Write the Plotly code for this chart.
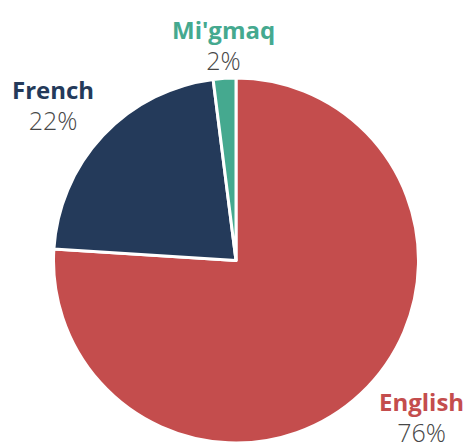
import math
import plotly.graph_objects as go

languages = ["English", "French", "Mi'gmaq"]
shares = [76, 22, 2]
colors = ["#c44d4d", "#243a5a", "#45a98f"]

W, H = 475, 443
CX, CY = 236.0, 260.5      # pie centre in px (from top-left)
R_PIE = 182.5              # pie radius in px
GAP = 9                    # visual gap between pie edge and label corner
VIS_H = 52                 # visual height of a two-line label
PAD_T, PAD_B = 7, 10       # annotation box padding around visible glyphs

fig = go.Figure(go.Pie(
    labels=languages,
    values=shares,
    marker=dict(colors=colors, line=dict(color="white", width=3)),
    sort=False,
    direction="clockwise",
    rotation=0,
    textinfo="none",
    showlegend=False,
    hoverinfo="label+percent",
    domain=dict(x=[(CX - R_PIE) / W, (CX + R_PIE) / W],
                y=[(H - CY - R_PIE) / H, (H - CY + R_PIE) / H]),
))

total = sum(shares)
annotations = []
cum = 0
for name, v, col in zip(languages, shares, colors):
    mid = (cum + v / 2) / total * 2 * math.pi
    cum += v
    ux, uy = math.sin(mid), -math.cos(mid)   # uy positive = downwards
    rl = R_PIE + GAP
    px, py = CX + ux * rl, CY + uy * rl
    xanchor = "left" if ux > 0.3 else ("right" if ux < -0.3 else "center")
    yanchor = "top" if uy > 0 else "bottom"
    if yanchor == "top":
        if py + VIS_H > H - 1:
            py = H - 1 - VIS_H
            dx = math.sqrt(max(rl ** 2 - (py - CY) ** 2, 0))
            px = CX + (dx if ux > 0 else -dx)
        ybox = py - PAD_T
    else:
        ybox = py + PAD_B
    pct = round(v / total * 100)
    annotations.append(dict(
        x=px / W, y=1 - ybox / H, xref="paper", yref="paper",
        xanchor=xanchor, yanchor=yanchor, showarrow=False, align="center",
        text=f"<b>{name}</b><br><span style='font-size:25px;color:#474747;font-weight:300'>{pct}%</span>",
        font=dict(family="Open Sans", size=24, color=col),
    ))

fig.update_layout(
    width=W, height=H,
    margin=dict(l=0, r=0, t=0, b=0),
    paper_bgcolor="white",
    plot_bgcolor="white",
    annotations=annotations,
)

fig.write_html("out.html", config={"displayModeBar": False},
               post_script="document.body.style.margin='0';")
